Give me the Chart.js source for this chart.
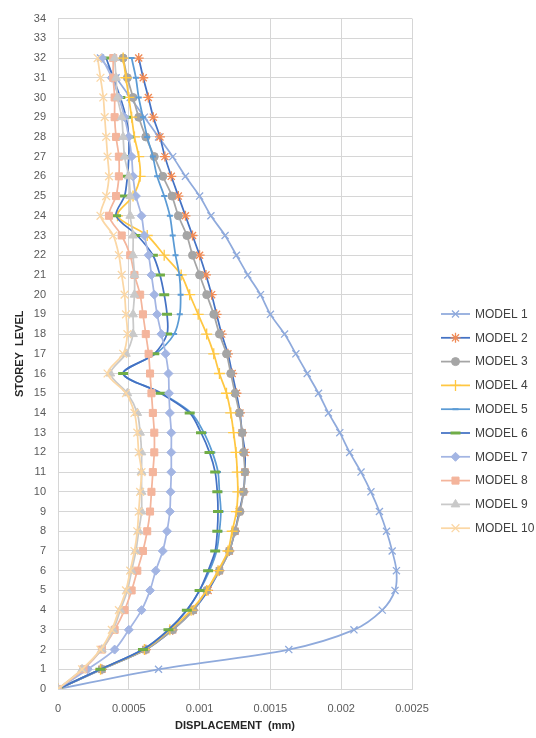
<!DOCTYPE html>
<html>
<head>
<meta charset="utf-8">
<script src="https://cdn.jsdelivr.net/npm/chart.js@4.4.1/dist/chart.umd.min.js"></script>
<style>
  html, body { margin: 0; padding: 0; background: #ffffff; }
  #wrap { width: 536px; height: 738px; }
</style>
</head>
<body>
<div id="wrap"><canvas id="chart" width="536" height="738"></canvas></div>
<script>
// Storey levels (y) and lateral displacement per storey (x, mm) for each model
const storeyLevels = [0,1,2,3,4,5,6,7,8,9,10,11,12,13,14,15,16,17,18,19,20,21,22,23,24,25,26,27,28,29,30,31,32];

const model1  = [0,0.00071,0.00163,0.00209,0.00229,0.00238,0.00239,0.00236,0.00232,0.00227,0.00221,0.00214,0.00206,0.00199,0.00191,0.00184,0.00176,0.00168,0.0016,0.0015,0.00143,0.00134,0.00126,0.00118,0.00108,0.001,0.0009,0.00081,0.00071,0.00061,0.00051,0.00041,0.0003];
const model2  = [0,0.00031,0.00062,0.00081,0.000955,0.00106,0.00114,0.00121,0.00125,0.00128,0.00131,0.00132,0.00132,0.0013,0.001285,0.00126,0.00123,0.0012,0.001156,0.00112,0.001085,0.001045,0.001,0.00095,0.0009,0.00085,0.0008,0.000755,0.00072,0.000673,0.000638,0.000602,0.00057];
const model3  = [0,0.00031,0.00062,0.00081,0.000955,0.00105,0.00114,0.00121,0.00125,0.001285,0.00131,0.00132,0.00131,0.0013,0.00128,0.00125,0.00122,0.00119,0.00114,0.0011,0.00105,0.001,0.00095,0.00091,0.00085,0.000805,0.00074,0.00068,0.00062,0.00057,0.00053,0.00049,0.00046];
const model4  = [0,0.0003,0.00061,0.00079,0.00094,0.00105,0.00113,0.0012,0.00123,0.00126,0.00127,0.001266,0.001257,0.00124,0.00122,0.00119,0.00114,0.0011,0.00105,0.00099,0.00093,0.00087,0.00075,0.00063,0.00042,0.00053,0.00058,0.00057,0.00054,0.00052,0.0005,0.00048,0.00046];
const model5  = [0,0.0003,0.0006,0.00078,0.00091,0.001,0.00107,0.00112,0.00114,0.00115,0.00114,0.00113,0.00109,0.00103,0.00094,0.00073,0.00046,0.00069,0.00082,0.00086,0.000866,0.000857,0.00083,0.00081,0.00079,0.00075,0.0007,0.00067,0.00063,0.0006,0.00057,0.00055,0.00052];
const model6  = [0,0.0003,0.0006,0.00078,0.00091,0.001,0.00106,0.00111,0.001125,0.00113,0.001125,0.00111,0.00107,0.00101,0.00093,0.000725,0.00046,0.00068,0.00077,0.00077,0.00075,0.00072,0.00067,0.00056,0.00041,0.00047,0.00049,0.0005,0.0005,0.00048,0.00044,0.00039,0.00034];
const model7  = [0,0.00021,0.0004,0.0005,0.00059,0.00065,0.00069,0.00074,0.00077,0.00079,0.000795,0.0008,0.0008,0.0008,0.00079,0.000784,0.00078,0.00076,0.00073,0.0007,0.00068,0.00066,0.00064,0.00061,0.00059,0.00055,0.00053,0.00052,0.0005,0.00047,0.00043,0.00038,0.00031];
const model8  = [0,0.00018,0.00031,0.0004,0.00047,0.00052,0.00056,0.0006,0.00063,0.00065,0.00066,0.00067,0.00068,0.00068,0.00067,0.00066,0.00065,0.00064,0.00062,0.0006,0.00058,0.00054,0.00051,0.00045,0.00036,0.00041,0.00043,0.00043,0.00041,0.0004,0.0004,0.00039,0.00039];
const model9  = [0,0.00017,0.00031,0.00039,0.00044,0.00049,0.00052,0.00055,0.00057,0.00059,0.00059,0.00059,0.00059,0.00058,0.00056,0.00049,0.00037,0.00048,0.00053,0.00053,0.00054,0.00054,0.00053,0.00053,0.00051,0.00051,0.0005,0.00047,0.00046,0.00045,0.00042,0.00041,0.0004];
const model10 = [0,0.00017,0.0003,0.00038,0.00043,0.00048,0.00051,0.00054,0.00056,0.00057,0.00058,0.00059,0.00057,0.00056,0.00054,0.00048,0.00035,0.00046,0.00049,0.00048,0.00047,0.00045,0.00043,0.00039,0.0003,0.00034,0.00036,0.00035,0.00034,0.00033,0.00032,0.0003,0.00028];

const seriesNames = ['MODEL 1','MODEL 2','MODEL 3','MODEL 4','MODEL 5','MODEL 6','MODEL 7','MODEL 8','MODEL 9','MODEL 10'];
const xTickValues = [0, 0.0005, 0.001, 0.0015, 0.002, 0.0025];
const yTickValues = [0,1,2,3,4,5,6,7,8,9,10,11,12,13,14,15,16,17,18,19,20,21,22,23,24,25,26,27,28,29,30,31,32,33,34];

const seriesValues = [model1, model2, model3, model4, model5, model6, model7, model8, model9, model10];

// Line colour, marker shape and marker colour per series
const seriesStyles = [
  { line: '#8FAADC', marker: '#8FAADC', shape: 'crossRot', r: 5,   bw: 1.3 },
  { line: '#4472C4', marker: '#F08A55', shape: 'star',     r: 5,   bw: 1.3 },
  { line: '#A5A5A5', marker: '#A5A5A5', shape: 'circle',   r: 4,   bw: 1 },
  { line: '#FFC742', marker: '#FFC742', shape: 'cross',    r: 5.5, bw: 1.3 },
  { line: '#5B9BD5', marker: '#5B9BD5', shape: 'line',     r: 3,   bw: 2 },
  { line: '#4472C4', marker: '#70AD47', shape: 'line',     r: 5,   bw: 3 },
  { line: '#A3B5E3', marker: '#A3B5E3', shape: 'rectRot',  r: 4.5, bw: 1 },
  { line: '#F4B59C', marker: '#F4B59C', shape: 'rect',     r: 5,   bw: 1 },
  { line: '#C9C9C9', marker: '#C9C9C9', shape: 'triangle', r: 5,   bw: 1 },
  { line: '#FBD7A5', marker: '#FBD7A5', shape: 'crossRot', r: 5.5, bw: 1.3 }
];

const datasets = seriesValues.map((vals, i) => ({
  label: seriesNames[i],
  data: vals.map((v, k) => ({ x: v, y: storeyLevels[k] })),
  showLine: true,
  borderColor: seriesStyles[i].line,
  borderWidth: 1.75,
  tension: 0.3,
  pointStyle: seriesStyles[i].shape,
  pointRadius: seriesStyles[i].r,
  pointHoverRadius: seriesStyles[i].r,
  pointBorderColor: seriesStyles[i].marker,
  pointBackgroundColor: seriesStyles[i].marker,
  pointBorderWidth: seriesStyles[i].bw,
  order: seriesValues.length - i
}));

const fmt = v => String(Number(Number(v).toPrecision(6)));
const gridColor = '#D6D6D6';
const tickFont = { family: "'Liberation Sans', Arial, sans-serif", size: 11 };
const titleFont = { family: "'Liberation Sans', Arial, sans-serif", size: 11, weight: 'bold' };

// Legend drawn as line sample + marker + label, stacked on the right
const sideLegend = {
  id: 'sideLegend',
  afterDraw(chart) {
    const ctx = chart.ctx;
    const x0 = 441, x1 = 470, top = 314, step = 23.8;
    ctx.save();
    chart.data.datasets.forEach((ds, i) => {
      const y = top + i * step;
      ctx.beginPath();
      ctx.strokeStyle = ds.borderColor;
      ctx.lineWidth = 1.75;
      ctx.moveTo(x0, y);
      ctx.lineTo(x1, y);
      ctx.stroke();
      ctx.strokeStyle = ds.pointBorderColor;
      ctx.fillStyle = ds.pointBackgroundColor;
      ctx.lineWidth = ds.pointBorderWidth;
      Chart.helpers.drawPoint(ctx, {
        pointStyle: ds.pointStyle, radius: ds.pointRadius, rotation: 0, borderWidth: ds.pointBorderWidth
      }, (x0 + x1) / 2, y);
      ctx.fillStyle = '#404040';
      ctx.font = "12px 'Liberation Sans', Arial, sans-serif";
      ctx.textAlign = 'left';
      ctx.textBaseline = 'middle';
      ctx.fillText(ds.label, x1 + 5, y + 0.5);
    });
    ctx.restore();
  }
};

new Chart(document.getElementById('chart'), {
  type: 'scatter',
  data: { datasets },
  plugins: [sideLegend],
  options: {
    responsive: false,
    animation: false,
    devicePixelRatio: 1,
    layout: { padding: { top: 12, right: 124, left: 0, bottom: 0 } },
    plugins: { legend: { display: false }, tooltip: { enabled: false } },
    scales: {
      x: {
        type: 'linear',
        min: 0,
        max: 0.0025,
        afterBuildTicks: s => { s.ticks = xTickValues.map(v => ({ value: v })); },
        afterFit: s => { s.height = 49; },
        grid: { color: gridColor, lineWidth: 1, drawTicks: false },
        border: { color: gridColor },
        ticks: { color: '#595959', font: tickFont, padding: 13, maxRotation: 0, callback: v => fmt(v) },
        title: { display: true, text: 'DISPLACEMENT  (mm)', color: '#262626', font: titleFont, padding: { top: 0, bottom: 5 } }
      },
      y: {
        type: 'linear',
        min: 0,
        max: 34,
        afterBuildTicks: s => { s.ticks = yTickValues.map(v => ({ value: v })); },
        afterFit: s => { s.width = 58; },
        grid: { color: gridColor, lineWidth: 1, drawTicks: false },
        border: { color: gridColor },
        ticks: { color: '#595959', font: tickFont, padding: 12, callback: v => fmt(v) },
        title: { display: true, text: 'STOREY  LEVEL', color: '#262626', font: titleFont, padding: { top: 13, bottom: 0 } }
      }
    }
  }
});
</script>
</body>
</html>
